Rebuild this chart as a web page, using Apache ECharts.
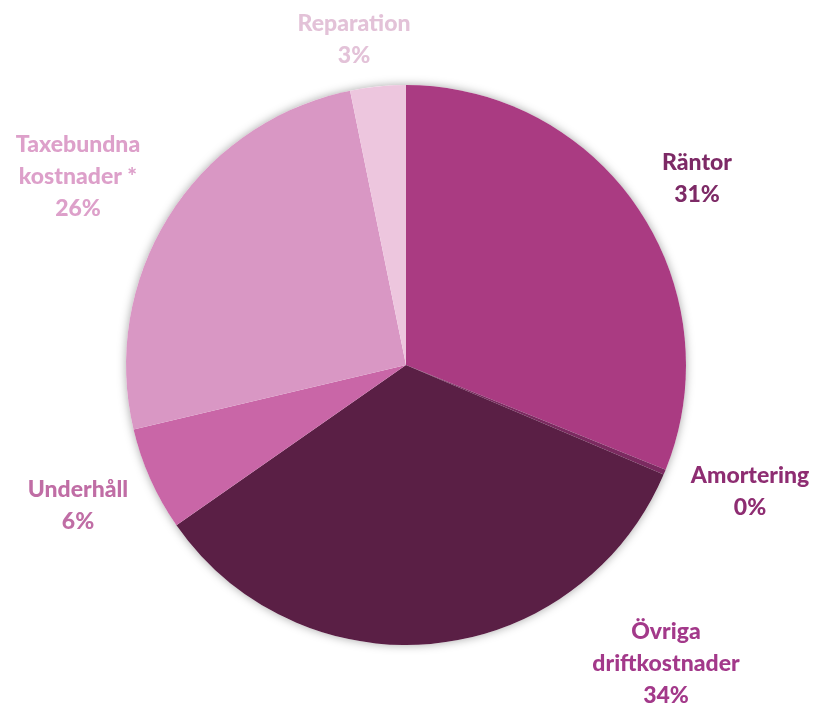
<!DOCTYPE html>
<html>
<head>
<meta charset="utf-8">
<script src="https://cdn.jsdelivr.net/npm/echarts@6/dist/echarts.min.js"></script>
<style>html,body{margin:0;padding:0;background:#fff}#c{width:816px;height:705px}</style>
</head>
<body>
<div id="c"></div>
<script>
const categories = ['Räntor', 'Amortering', 'Övriga\ndriftkostnader', 'Underhåll', 'Taxebundna\nkostnader *', 'Reparation'];
const values = [31.1, 0.3, 33.9, 6.0, 25.5, 3.2];
const sliceColors = ['#AA3B82', '#7B2A60', '#5A1F45', '#C966A7', '#D997C4', '#EDC6DE'];
const labelColors = ['#7D2A66', '#8E2D72', '#A3398A', '#C06DA5', '#DDA0CA', '#E3C2D8'];
const labelPos = [[697, 179], [750, 492], [666, 664], [78, 506], [78, 177], [354, 40]];

const chart = echarts.init(document.getElementById('c'), null, {renderer: 'canvas'});
const total = values.reduce((a, b) => a + b, 0);
chart.setOption({
  animation: false,
  series: [
    {
      type: 'pie', silent: true, z: 1,
      center: [406, 365], radius: 280,
      label: {show: false}, labelLine: {show: false},
      itemStyle: {color: '#ffffff', shadowBlur: 10, shadowColor: 'rgba(0,0,0,0.35)'},
      data: [{value: 1, name: 'bg'}]
    },
    {
      type: 'pie', z: 2,
      center: [406, 365], radius: 280,
      startAngle: 90, clockwise: true,
      avoidLabelOverlap: false,
      itemStyle: {borderWidth: 0},
      labelLine: {show: false},
      label: {
        show: true,
        position: 'outside',
        fontFamily: 'Lato',
        fontWeight: 900,
        fontSize: 23,
        lineHeight: 32,
        align: 'center',
        formatter: p => p.name + '\n' + Math.round(p.value / total * 100) + '%'
      },
      labelLayout: p => ({
        x: labelPos[p.dataIndex][0],
        y: labelPos[p.dataIndex][1],
        align: 'center',
        verticalAlign: 'middle'
      }),
      data: categories.map((c, i) => ({
        name: c, value: values[i],
        itemStyle: {color: sliceColors[i]},
        label: {color: labelColors[i]}
      }))
    }
  ]
});
</script>
</body>
</html>
